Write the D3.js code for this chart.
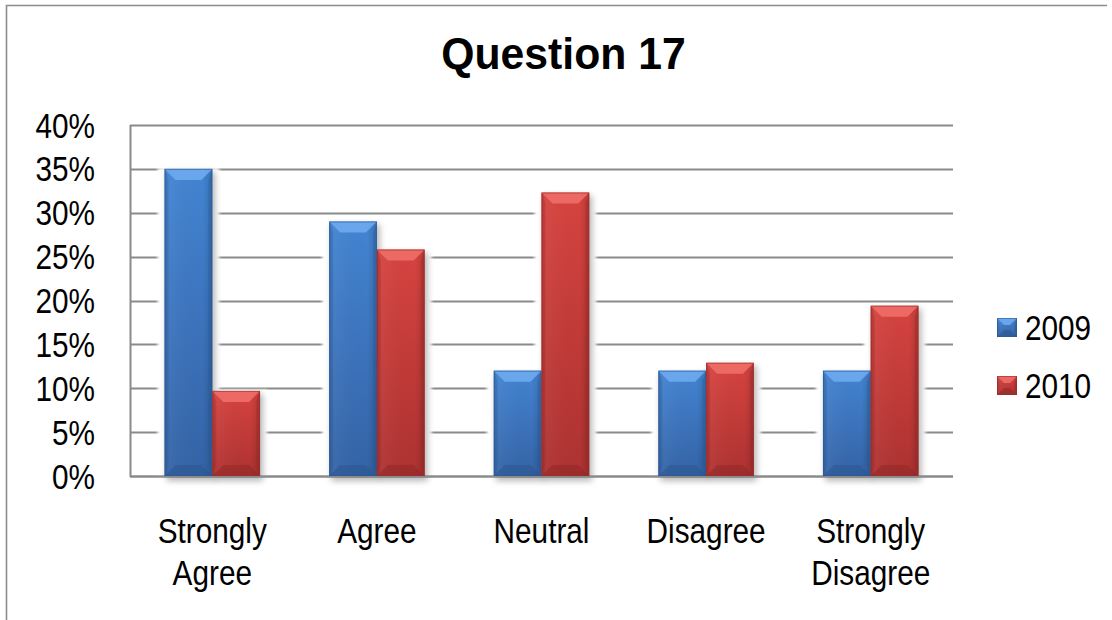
<!DOCTYPE html>
<html>
<head>
<meta charset="utf-8">
<script src="https://cdn.jsdelivr.net/npm/d3@7"></script>
<style>
  html, body { margin: 0; padding: 0; background: #fff; }
  svg { display: block; }
  text { font-family: "Liberation Sans", Arial, sans-serif; fill: #000; }
</style>
</head>
<body>
<svg id="chart" width="1112" height="620"></svg>
<script>
// Survey responses to question 17, share of respondents per answer
const categories = ["Strongly Agree", "Agree", "Neutral", "Disagree", "Strongly Disagree"];
const categoryLabels = [["Strongly", "Agree"], ["Agree"], ["Neutral"], ["Disagree"], ["Strongly", "Disagree"]];
const seriesNames = ["2009", "2010"];
const values2009 = [0.35, 0.29, 0.12, 0.12, 0.12];
const values2010 = [0.097, 0.258, 0.323, 0.129, 0.194];
const yTicks = [0, 0.05, 0.10, 0.15, 0.20, 0.25, 0.30, 0.35, 0.40];
const titleText = "Question 17";

const palette = {
  "2009": { top: "#6eaaee", bodyTop: "#4384d2", bodyBottom: "#3463a6", bottom: "#2c558f", edge: "#2a5a98" },
  "2010": { top: "#ee6e68", bodyTop: "#d6433f", bodyBottom: "#ad3231", bottom: "#8f2827", edge: "#9c2d2b" }
};

const svg = d3.select("#chart");
const W = 1112, H = 620;
const plot = { left: 130, right: 953, top: 125, bottom: 476 };
const SX = 0.85; // horizontal text compression

const defs = svg.append("defs");
defs.append("filter").attr("id", "shadow").attr("x", "-30%").attr("y", "-10%").attr("width", "160%").attr("height", "130%")
  .append("feGaussianBlur").attr("stdDeviation", 3);
defs.append("filter").attr("id", "halo").attr("x", "-30%").attr("y", "-10%").attr("width", "160%").attr("height", "130%")
  .append("feGaussianBlur").attr("stdDeviation", 1.5);

seriesNames.forEach(s => {
  const c = palette[s];
  const g = defs.append("linearGradient").attr("id", "body" + s).attr("x1", 0).attr("y1", 0).attr("x2", 0).attr("y2", 1);
  g.append("stop").attr("offset", "0%").attr("stop-color", c.bodyTop);
  g.append("stop").attr("offset", "100%").attr("stop-color", c.bodyBottom);
  const h = defs.append("linearGradient").attr("id", "side" + s).attr("x1", 0).attr("y1", 0).attr("x2", 1).attr("y2", 0);
  h.append("stop").attr("offset", "0%").attr("stop-color", "#000").attr("stop-opacity", 0.10);
  h.append("stop").attr("offset", "12%").attr("stop-color", "#fff").attr("stop-opacity", 0.04);
  h.append("stop").attr("offset", "80%").attr("stop-color", "#000").attr("stop-opacity", 0.0);
  h.append("stop").attr("offset", "100%").attr("stop-color", "#000").attr("stop-opacity", 0.14);
});

// Outer chart frame (left and top edges visible)
svg.append("path")
  .attr("d", `M6.5,${H} L6.5,5.5 L1107,5.5`)
  .attr("fill", "none").attr("stroke", "#8c8c8c").attr("stroke-width", 1.6);

// Title
svg.append("text")
  .attr("transform", `translate(563.5,69) scale(0.95,1)`)
  .attr("text-anchor", "middle")
  .attr("font-weight", "bold")
  .attr("font-size", 45)
  .text(titleText);

// Scales
const x = d3.scaleBand().domain(categories).range([plot.left, plot.right]).paddingInner(0).paddingOuter(0);
const groupFrac = 0.58;
const xs = d3.scaleBand().domain(seriesNames)
  .range([x.bandwidth() * (1 - groupFrac) / 2, x.bandwidth() * (1 + groupFrac) / 2]);
const y = d3.scaleLinear().domain([0, 0.40]).range([plot.bottom, plot.top]);

// Gridlines
const grid = svg.append("g");
grid.selectAll("line").data(yTicks).join("line")
  .attr("x1", plot.left).attr("x2", plot.right)
  .attr("y1", d => Math.round(y(d)) + 0.5).attr("y2", d => Math.round(y(d)) + 0.5)
  .attr("stroke", "#8a8a8a").attr("stroke-width", 2);

// Y axis
const yAxis = d3.axisLeft(y).tickValues(yTicks).tickSize(0).tickPadding(0).tickFormat(d3.format(".0%"));
const yg = svg.append("g").attr("transform", `translate(${plot.left},0)`).call(yAxis);
yg.select(".domain").remove();
yg.selectAll(".tick text").remove();
yg.selectAll(".tick").append("text")
  .attr("transform", "translate(-35,12) scale(" + SX + ",1)")
  .attr("text-anchor", "end")
  .attr("font-size", 35)
  .text(d => d3.format(".0%")(d));

const rows = categories.map((c, i) => ({ cat: c, "2009": values2009[i], "2010": values2010[i] }));
const bars = [];
rows.forEach(r => seriesNames.forEach(s => bars.push({ cat: r.cat, s, v: r[s] })));

function bevelBar(g, bx, by, bw, bh, s, b) {
  const c = palette[s];
  g.append("rect").attr("x", bx).attr("y", by).attr("width", bw).attr("height", bh).attr("fill", `url(#body${s})`);
  g.append("rect").attr("x", bx).attr("y", by).attr("width", bw).attr("height", bh).attr("fill", `url(#side${s})`);
  const bb = Math.min(b, bh / 2, bw / 2);
  // top facet
  g.append("polygon")
    .attr("points", [[bx, by], [bx + bw, by], [bx + bw - bb, by + bb], [bx + bb, by + bb]].join(" "))
    .attr("fill", c.top).attr("opacity", 0.9);
  // bottom facet
  g.append("polygon")
    .attr("points", [[bx, by + bh], [bx + bw, by + bh], [bx + bw - bb, by + bh - bb], [bx + bb, by + bh - bb]].join(" "))
    .attr("fill", c.bottom).attr("opacity", 0.55);
  // right facet
  g.append("polygon")
    .attr("points", [[bx + bw, by], [bx + bw, by + bh], [bx + bw - bb * 0.35, by + bh - bb], [bx + bw - bb * 0.35, by + bb]].join(" "))
    .attr("fill", c.bottom).attr("opacity", 0.35);
  // left facet
  g.append("polygon")
    .attr("points", [[bx, by], [bx, by + bh], [bx + bb * 0.35, by + bh - bb], [bx + bb * 0.35, by + bb]].join(" "))
    .attr("fill", c.bottom).attr("opacity", 0.25);
  g.append("rect").attr("x", bx + 0.5).attr("y", by + 0.5).attr("width", bw - 1).attr("height", bh - 1)
    .attr("fill", "none").attr("stroke", c.edge).attr("stroke-width", 1).attr("opacity", 0.6);
}

// Halos and shadows behind bars
const under = svg.append("g");
bars.forEach(d => {
  const bx = x(d.cat) + xs(d.s), bw = xs.bandwidth(), by = y(d.v);
  under.append("rect").attr("x", bx - 7).attr("y", by - 1).attr("width", bw + 14).attr("height", plot.bottom - by - 0.5)
    .attr("fill", "#fff").attr("filter", "url(#halo)");
});
bars.forEach(d => {
  const bx = x(d.cat) + xs(d.s), bw = xs.bandwidth(), by = y(d.v);
  under.append("rect").attr("x", bx + 2).attr("y", by + 3).attr("width", bw + 1).attr("height", plot.bottom - by + 2)
    .attr("fill", "#000").attr("opacity", 0.28).attr("filter", "url(#shadow)");
});

// Baseline and value axis line above shadows
svg.append("line").attr("x1", plot.left).attr("x2", plot.right)
  .attr("y1", Math.round(y(0)) + 0.5).attr("y2", Math.round(y(0)) + 0.5)
  .attr("stroke", "#8a8a8a").attr("stroke-width", 2);
svg.append("line").attr("x1", plot.left + 0.5).attr("x2", plot.left + 0.5)
  .attr("y1", plot.top).attr("y2", plot.bottom + 1)
  .attr("stroke", "#8a8a8a").attr("stroke-width", 2);

// Bars
const barLayer = svg.append("g");
bars.forEach(d => {
  const bx = x(d.cat) + xs(d.s), bw = xs.bandwidth(), by = y(d.v);
  bevelBar(barLayer.append("g"), bx, by, bw, plot.bottom - by, d.s, 11);
});

// Category axis labels
const xAxis = d3.axisBottom(x).tickSize(0).tickFormat("");
const xg = svg.append("g").attr("transform", `translate(0,${plot.bottom})`).call(xAxis);
xg.select(".domain").remove();
xg.selectAll(".tick").each(function (d, i) {
  const t = d3.select(this);
  categoryLabels[i].forEach((line, k) => {
    t.append("text")
      .attr("transform", `translate(0,${67 + k * 42}) scale(${SX},1)`)
      .attr("text-anchor", "middle")
      .attr("font-size", 35)
      .text(line);
  });
});

// Legend
const legend = svg.append("g");
seriesNames.forEach((s, i) => {
  const ly = 318 + i * 58;
  bevelBar(legend.append("g"), 997, ly, 20, 19, s, 7);
  legend.append("text")
    .attr("transform", `translate(1025,${ly + 22}) scale(${SX},1)`)
    .attr("font-size", 35)
    .text(s);
});
</script>
</body>
</html>
